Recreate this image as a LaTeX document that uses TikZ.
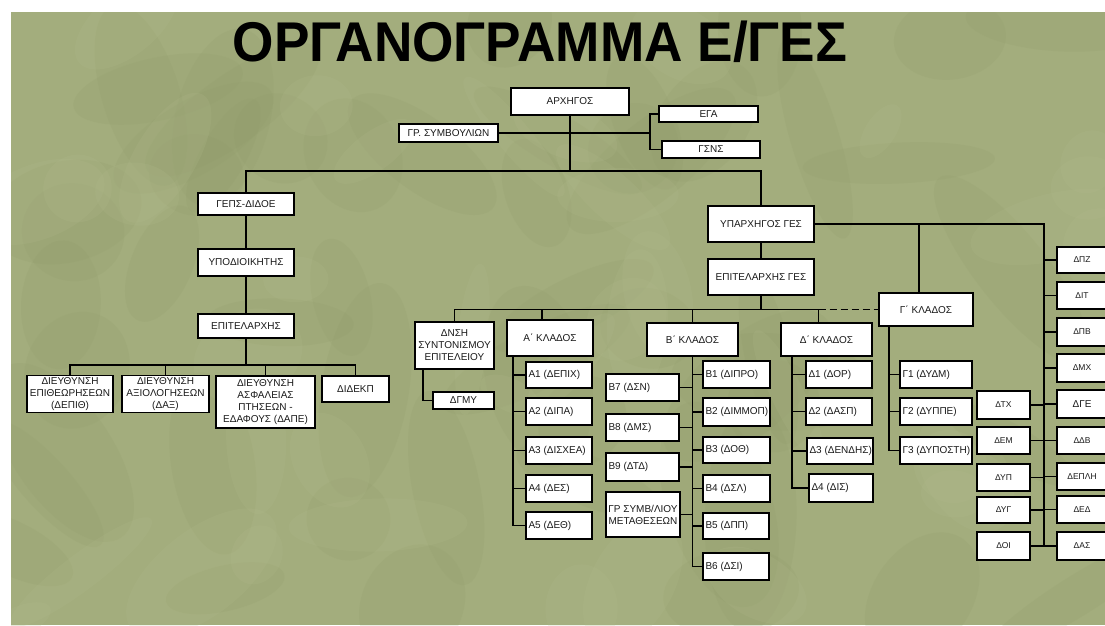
\documentclass[tikz,border=0pt]{standalone}
\usepackage{fontspec}
\setmainfont{Liberation Sans}
\usetikzlibrary{calc}
\definecolor{bgA}{HTML}{A3AD7D}
\definecolor{bgD}{HTML}{8E9968}
\definecolor{bgL}{HTML}{B3BC8E}
\definecolor{txt}{HTML}{1A1A1A}
\tikzset{
  box/.style={draw=black, fill=white, line width=1.8pt, inner sep=2pt, align=center,
              font=\fontsize{10}{12}\selectfont, text=txt},
  lft/.style={inner xsep=2.5pt,
              execute at begin node={\hbox to \bxtw pt\bgroup},
              execute at end node={\hss\egroup}},
  sm/.style={font=\fontsize{8.5}{10}\selectfont},
  ln/.style={line width=1.8pt, draw=black},
  dsh/.style={line width=1.8pt, draw=black, dash pattern=on 7pt off 4pt}
}
\newcommand\bx[7]{%
  \pgfmathsetmacro\bxcx{(#2+#4)/2}%
  \pgfmathsetmacro\bxcy{(#3+#5)/2}%
  \pgfmathsetmacro\bxw{#4-#2}%
  \pgfmathsetmacro\bxh{#5-#3}%
  \pgfmathsetmacro\bxtw{#4-#2-5}%
  \node[box,minimum width=\bxw pt,minimum height=\bxh pt,#6] (#1) at (\bxcx,\bxcy) {#7};}
\begin{document}
\begin{tikzpicture}[x=1pt,y=-1pt]
\useasboundingbox (0,0) rectangle (1105,625);
\fill[white] (0,0) rectangle (1105,625);
% camouflage background
\begin{scope}
  \clip (11,12) rectangle (1105,625);
  \fill[bgA] (11,12) rectangle (1105,625);
  \pgfmathsetseed{11}
  \foreach \i in {1,...,55}{
    \pgfmathsetmacro\rx{11+random()*1094}
    \pgfmathsetmacro\ry{12+random()*613}
    \pgfmathsetmacro\rw{40+random()*80}
    \pgfmathsetmacro\rh{20+random()*35}
    \pgfmathsetmacro\ra{random()*180}
    \fill[bgD, opacity=0.16, rotate around={\ra:(\rx,\ry)}] (\rx,\ry) ellipse [x radius=\rw pt, y radius=\rh pt];
  }
  \foreach \i in {1,...,40}{
    \pgfmathsetmacro\rx{11+random()*1094}
    \pgfmathsetmacro\ry{12+random()*613}
    \pgfmathsetmacro\rw{30+random()*60}
    \pgfmathsetmacro\rh{15+random()*30}
    \pgfmathsetmacro\ra{random()*180}
    \fill[bgL, opacity=0.18, rotate around={\ra:(\rx,\ry)}] (\rx,\ry) ellipse [x radius=\rw pt, y radius=\rh pt];
  }
\end{scope}
% title
\node[text=black] (title) at (540,42) {\fontsize{56}{60}\selectfont\bfseries\scalebox{0.95}[1]{ΟΡΓΑΝΟΓΡΑΜΜΑ Ε/ΓΕΣ}};
% top
\bx{arch}{511}{88}{629}{115}{}{ΑΡΧΗΓΟΣ}
\bx{ega}{659}{106}{758}{122}{}{ΕΓΑ}
\bx{gsns}{662}{141}{760}{158}{}{ΓΣΝΣ}
\bx{grs}{399}{124}{498}{142}{}{ΓΡ. ΣΥΜΒΟΥΛΙΩΝ}
% left branch
\bx{geps}{198}{193}{294}{215}{}{ΓΕΠΣ-ΔΙΔΟΕ}
\bx{ypod}{198}{249}{294}{276}{}{ΥΠΟΔΙΟΙΚΗΤΗΣ}
\bx{epit}{198}{314}{294}{338}{}{ΕΠΙΤΕΛΑΡΧΗΣ}
\bx{dir1}{27}{376}{113}{412}{}{ΔΙΕΥΘΥΝΣΗ\\ΕΠΙΘΕΩΡΗΣΕΩΝ\\(ΔΕΠΙΘ)}
\bx{dir2}{122}{376}{209}{412}{}{ΔΙΕΥΘΥΝΣΗ\\ΑΞΙΟΛΟΓΗΣΕΩΝ\\(ΔΑΞ)}
\bx{dir3}{216}{376}{315}{428}{}{ΔΙΕΥΘΥΝΣΗ\\ΑΣΦΑΛΕΙΑΣ\\ΠΤΗΣΕΩΝ -\\ΕΔΑΦΟΥΣ (ΔΑΠΕ)}
\bx{dir4}{322}{376}{389}{402}{}{ΔΙΔΕΚΠ}
% right branch
\bx{ypar}{708}{206}{814}{242}{}{ΥΠΑΡΧΗΓΟΣ ΓΕΣ}
\bx{epg}{708}{259}{814}{295}{}{ΕΠΙΤΕΛΑΡΧΗΣ ΓΕΣ}
\bx{dnsh}{415}{322}{494}{369}{}{ΔΝΣΗ\\ΣΥΝΤΟΝΙΣΜΟΥ\\ΕΠΙΤΕΛΕΙΟΥ}
\bx{dgmy}{433}{392}{494}{409}{}{ΔΓΜΥ}
\bx{ak}{507}{320}{593}{356}{}{Α΄ ΚΛΑΔΟΣ}
\bx{bk}{647}{323}{738}{356}{}{Β΄ ΚΛΑΔΟΣ}
\bx{dk}{781}{323}{872}{356}{}{Δ΄ ΚΛΑΔΟΣ}
\bx{gk}{879}{293}{973}{326}{}{Γ΄ ΚΛΑΔΟΣ}
% A
\bx{a1}{526}{362}{592}{388}{lft}{Α1 (ΔΕΠΙΧ)}
\bx{a2}{526}{398}{592}{425}{lft}{Α2 (ΔΙΠΑ)}
\bx{a3}{526}{437}{592}{464}{lft}{Α3 (ΔΙΣΧΕΑ)}
\bx{a4}{526}{475}{592}{502}{lft}{Α4 (ΔΕΣ)}
\bx{a5}{526}{512}{592}{539}{lft}{Α5 (ΔΕΘ)}
% B
\bx{b1}{703}{361}{770}{388}{lft}{Β1 (ΔΙΠΡΟ)}
\bx{b2}{703}{398}{770}{426}{lft}{Β2 (ΔΙΜΜΟΠ)}
\bx{b3}{703}{437}{770}{463}{lft}{Β3 (ΔΟΘ)}
\bx{b4}{703}{475}{770}{502}{lft}{Β4 (ΔΣΛ)}
\bx{b5}{703}{513}{769}{539}{lft}{Β5 (ΔΠΠ)}
\bx{b6}{703}{553}{769}{580}{lft}{Β6 (ΔΣΙ)}
\bx{b7}{606}{374}{679}{401}{lft}{Β7 (ΔΣΝ)}
\bx{b8}{606}{414}{679}{441}{lft}{Β8 (ΔΜΣ)}
\bx{b9}{606}{453}{679}{481}{lft}{Β9 (ΔΤΔ)}
\bx{bgr}{606}{492}{680}{537}{}{ΓΡ ΣΥΜΒ/ΛΙΟΥ\\ΜΕΤΑΘΕΣΕΩΝ}
% Delta
\bx{d1}{806}{361}{872}{388}{lft}{Δ1 (ΔΟΡ)}
\bx{d2}{806}{398}{872}{425}{lft}{Δ2 (ΔΑΣΠ)}
\bx{d3}{807}{438}{873}{464}{lft}{Δ3 (ΔΕΝΔΗΣ)}
\bx{d4}{809}{474}{873}{502}{lft}{Δ4 (ΔΙΣ)}
% Gamma
\bx{g1}{900}{361}{972}{388}{lft}{Γ1 (ΔΥΔΜ)}
\bx{g2}{900}{398}{972}{425}{lft}{Γ2 (ΔΥΠΠΕ)}
\bx{g3}{900}{437}{972}{464}{lft}{Γ3 (ΔΥΠΟΣΤΗ)}
% right column
\bx{r1}{1057}{247}{1107}{273}{sm}{ΔΠΖ}
\bx{r2}{1057}{282}{1107}{309}{sm}{ΔΙΤ}
\bx{r3}{1057}{318}{1107}{346}{sm}{ΔΠΒ}
\bx{r4}{1057}{354}{1107}{382}{sm}{ΔΜΧ}
\bx{r5}{1057}{390}{1107}{418}{}{ΔΓΕ}
\bx{r6}{1057}{427}{1107}{454}{sm}{ΔΔΒ}
\bx{r7}{1057}{463}{1107}{490}{sm}{ΔΕΠΛΗ}
\bx{r8}{1057}{496}{1107}{523}{sm}{ΔΕΔ}
\bx{r9}{1057}{532}{1107}{560}{sm}{ΔΑΣ}
\bx{l1}{977}{391}{1030}{419}{sm}{ΔΤΧ}
\bx{l2}{977}{427}{1030}{454}{sm}{ΔΕΜ}
\bx{l3}{977}{464}{1030}{491}{sm}{ΔΥΠ}
\bx{l4}{977}{497}{1030}{523}{sm}{ΔΥΓ}
\bx{l5}{977}{532}{1030}{560}{sm}{ΔΟΙ}
% ---------- connectors ----------
\coordinate (busA) at (570,171);
\draw[ln] (arch.south) -- (busA);
\draw[ln] (geps.north) |- (busA) -| (ypar.north);
\coordinate (sj) at (650,133);
\draw[ln] (grs.east) -- (sj);
\draw[ln] (ega.west) -| (sj) |- (gsns.west);
\draw[ln] (geps.south) -- (ypod.north);
\draw[ln] (ypod.south) -- (epit.north);
\coordinate (busB) at (246,365);
\draw[ln] (epit.south) -- (busB);
\draw[ln] (dir1.north) |- (busB) -| (dir4.north);
\draw[ln] (dir2.north) -- (dir2.north |- busB);
\draw[ln] (dir3.north) -- (dir3.north |- busB);
% right branch
\draw[ln] (ypar.south) -- (epg.north);
\coordinate (busC) at (epg.south |- gk.west);
\draw[ln] (epg.south) -- (busC);
\coordinate (dtop) at ([xshift=-8pt]dk.north);
\draw[ln] (dnsh.north) |- (busC) -| (dtop);
\coordinate (atop) at ([xshift=-8pt]ak.north);
\draw[ln] (atop) -- (atop |- busC);
\draw[ln] (bk.north) -- (bk.north |- busC);
\draw[dsh] (dtop |- busC) -- (gk.west);
\path (ypar.east) -- ++(229,0) coordinate (rtop);
\draw[ln] (ypar.east) -- (rtop) -- (rtop |- r9.west);
\coordinate (gtop) at ([xshift=-7pt]gk.north);
\draw[ln] (gtop) -- (gtop |- ypar.east);
\foreach \n in {r1,r2,r3,r4,r5,r6,r7,r8,r9}{\draw[ln] (\n.west) -- (\n.west -| rtop);}
\foreach \n in {l1,l2,l3,l4,l5}{\draw[ln] (\n.east) -- (\n.east -| rtop);}
% sub-columns
\coordinate (ncol) at ([xshift=9pt]dnsh.south west);
\draw[ln] (ncol) |- (dgmy.west);
\coordinate (acol) at ([xshift=7pt]ak.south west);
\draw[ln] (acol) |- (a5.west);
\foreach \n in {a1,a2,a3,a4}{\draw[ln] (\n.west -| acol) -- (\n.west);}
\draw[ln] (bk.south) |- (b6.west);
\foreach \n in {b1,b2,b3,b4,b5}{\draw[ln] (\n.west -| bk.south) -- (\n.west);}
\foreach \n in {b7,b8,b9,bgr}{\draw[ln] (\n.east) -- (\n.east -| bk.south);}
\coordinate (dcol) at ([xshift=12pt]dk.south west);
\draw[ln] (dcol) |- (d4.west);
\foreach \n in {d1,d2,d3}{\draw[ln] (\n.west -| dcol) -- (\n.west);}
\coordinate (gcol) at ([xshift=11pt]gk.south west);
\draw[ln] (gcol) |- (g3.west);
\foreach \n in {g1,g2}{\draw[ln] (\n.west -| gcol) -- (\n.west);}
\end{tikzpicture}
\end{document}
